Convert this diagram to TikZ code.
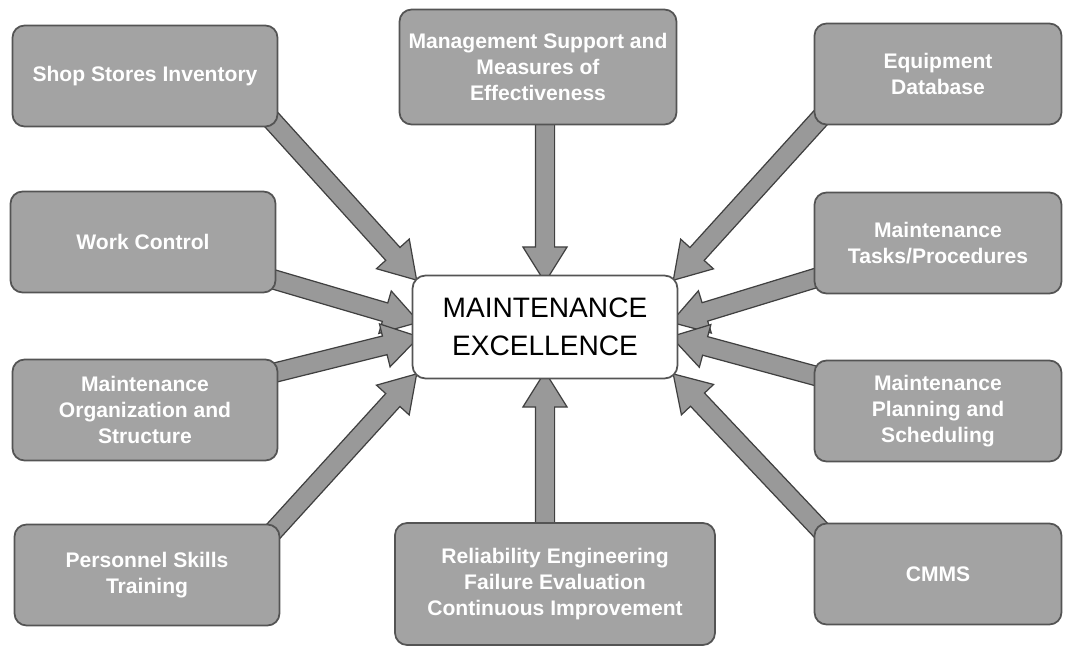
\documentclass[tikz,border=0pt]{standalone}
\usepackage{fontspec}
\setmainfont{Liberation Sans}
\usetikzlibrary{shapes}
\usetikzlibrary{arrows}
\usetikzlibrary{calc,backgrounds}

\definecolor{boxgray}{gray}{0.64}
\definecolor{arrowgray}{gray}{0.60}
\definecolor{edgegray}{gray}{0.33}

% one fat arrow from a point on a topic box to the hub
\newcommand{\feed}[2]{%
  \path let \p1=($(#1)!-16pt!(#2)$), \p2=(#2),
    \n1={atan2(\y2-\y1,\x2-\x1)}, \n2={veclen(\x2-\x1,\y2-\y1)} in
    node[fatarrow, rotate=\n1, minimum height=\n2] at ($(\p1)!0.5!(\p2)$) {};}

\tikzset{
  topic/.style={rectangle, rounded corners=0.24cm, draw=edgegray, line width=1pt,
    fill=boxgray, text=white, align=center, inner sep=0pt,
    font=\bfseries\fontsize{12}{14.8}\selectfont},
  lbox/.style={topic, minimum width=5.3cm, minimum height=2.02cm},
  rbox/.style={topic, minimum width=4.94cm, minimum height=2.02cm},
  hub/.style={rectangle, rounded corners=0.26cm, draw=edgegray, line width=1pt,
    fill=white, align=center, minimum width=5.3cm, minimum height=2.06cm,
    font=\fontsize{16}{21.5}\selectfont},
  fatarrow/.style={single arrow, draw=black!75, fill=arrowgray, line width=0.7pt,
    inner xsep=0pt, inner ysep=0.18cm, outer sep=0pt, minimum width=0pt,
    single arrow head extend=0.25cm, single arrow tip angle=64}
}

\begin{document}
\begin{tikzpicture}[x=0.02cm, y=-0.02cm]
\useasboundingbox (0,0) rectangle (1070,651);

\node[hub] (hub) at (545,327) {MAINTENANCE\\EXCELLENCE};

% left column
\node[lbox] (shop) at (145,76) {Shop Stores Inventory};
\node[lbox] (work) at (143,242) {Work Control};
\node[lbox] (org) at (145,410) {Maintenance\\Organization and\\Structure};
\node[lbox] (pers) at (147,575) {Personnel Skills\\Training};

% middle
\node[topic, minimum width=5.54cm, minimum height=2.3cm] (mgmt) at (538,67)
  {Management Support and\\Measures of\\Effectiveness};
\node[topic, minimum width=6.4cm, minimum height=2.44cm] (rel) at (555,584)
  {Reliability Engineering\\Failure Evaluation\\Continuous Improvement};

% right column
\node[rbox] (equip) at (938,74) {Equipment\\Database};
\node[rbox] (tasks) at (938,243) {Maintenance\\Tasks/Procedures};
\node[rbox] (plan) at (938,411) {Maintenance\\Planning and\\Scheduling};
\node[rbox] (cmms) at (938,574) {CMMS};

\begin{scope}[on background layer]
  \feed{shop.south east}{hub.north west}
  \feed{work.-16}{hub.177}
  \feed{org.16}{hub.185}
  \feed{pers.north east}{hub.south west}
  \feed{hub.north |- mgmt.south}{hub.north}
  \feed{hub.south |- rel.north}{hub.south}
  \feed{equip.south west}{hub.north east}
  \feed{tasks.196}{hub.3}
  \feed{plan.164}{hub.355}
  \feed{cmms.north west}{hub.south east}
\end{scope}
\end{tikzpicture}
\end{document}
